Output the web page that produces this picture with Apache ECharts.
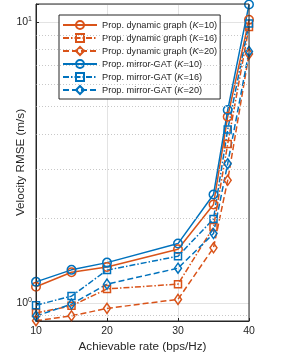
<!DOCTYPE html>
<html>
<head>
<meta charset="utf-8">
<script src="https://cdn.jsdelivr.net/npm/echarts@6/dist/echarts.min.js"></script>
<style>html,body{margin:0;padding:0;background:#fff}#c{width:283px;height:354px}</style>
</head>
<body>
<div id="c"></div>
<script>
const rates = [10, 15, 20, 30, 35, 37, 40];
const dynK10 = [1.14, 1.285, 1.34, 1.55, 2.24, 4.6, 10.2];
const dynK16 = [0.92, 0.975, 1.12, 1.165, 1.86, 3.68, 9.6];
const dynK20 = [0.863, 0.898, 0.955, 1.028, 1.57, 2.73, 7.7];
const mirK10 = [1.187, 1.31, 1.39, 1.625, 2.43, 4.86, 11.55];
const mirK16 = [0.98, 1.056, 1.307, 1.465, 1.99, 4.14, 9.88];
const mirK20 = [0.897, 0.989, 1.165, 1.328, 1.764, 3.13, 7.86];
const minorLines = [0.9, 2, 3, 4, 5, 6, 7, 8, 9];
const names = [
  'Prop. dynamic graph (K=10)', 'Prop. dynamic graph (K=16)', 'Prop. dynamic graph (K=20)',
  'Prop. mirror-GAT (K=10)', 'Prop. mirror-GAT (K=16)', 'Prop. mirror-GAT (K=20)'
];
const ORANGE = '#D95319', BLUE = '#0072BD';
const FONT = 'Liberation Sans';
const TXT = '#262626';

function pairs(ys) { return rates.map((x, i) => [x, ys[i]]); }
const dashDot = [6, 2, 1.5, 2];
const dashed = [6, 3];
function mk(name, ys, color, symbol, size, dash) {
  return {
    name, type: 'line', data: pairs(ys),
    symbol, symbolSize: size, showAllSymbol: true,
    lineStyle: { color, width: 1.5, type: dash },
    itemStyle: { color: 'rgba(255,255,255,0)', borderColor: color, borderWidth: 1.5, opacity: 1 },
    emphasis: { disabled: true }, animation: false, z: 3
  };
}
const series = [
  mk(names[0], dynK10, ORANGE, 'circle', 8.5, 'solid'),
  mk(names[1], dynK16, ORANGE, 'rect', 7, dashDot),
  mk(names[2], dynK20, ORANGE, 'diamond', [7, 10], dashed),
  mk(names[3], mirK10, BLUE, 'circle', 8.5, 'solid'),
  mk(names[4], mirK16, BLUE, 'rect', 7, dashDot),
  mk(names[5], mirK20, BLUE, 'diamond', [7, 10], dashed)
];
series.push({
  type: 'line', data: [], silent: true, animation: false,
  markLine: {
    silent: true, symbol: 'none', animation: false,
    label: { show: false },
    lineStyle: { type: [1, 2], color: '#c8c8c8', width: 1 },
    data: minorLines.map(v => ({ yAxis: v }))
  }
});

const chart = echarts.init(document.getElementById('c'), null, { renderer: 'canvas' });
chart.setOption({
  backgroundColor: '#fff',
  animation: false,
  grid: {
    left: 36, right: 34, top: 4, bottom: 33, containLabel: false, outerBoundsMode: 'none',
    show: true, borderColor: TXT, borderWidth: 1, backgroundColor: 'transparent', z: 10
  },
  legend: {
    data: names, orient: 'vertical', left: 59, top: 15,
    backgroundColor: '#fff', borderColor: TXT, borderWidth: 1,
    padding: [5, 3, 4, 3], itemWidth: 34, itemHeight: 10, itemGap: 3,
    textStyle: { fontFamily: FONT, fontSize: 9.2, lineHeight: 10, color: TXT, rich: { i: { fontStyle: 'italic', fontFamily: FONT, fontSize: 9.2, lineHeight: 10, color: TXT } } },
    formatter: n => n.replace('K=', '{i|K}='),
    selectedMode: false
  },
  xAxis: {
    type: 'value', min: 10, max: 40, interval: 10,
    name: 'Achievable rate (bps/Hz)', nameLocation: 'middle', nameGap: 20, nameMoveOverlap: false,
    nameTextStyle: { fontFamily: FONT, fontSize: 11.7, color: TXT },
    axisLine: { show: true, lineStyle: { color: TXT } },
    axisTick: { show: true, inside: true, length: 3, lineStyle: { color: TXT } },
    axisLabel: { fontFamily: FONT, fontSize: 10.5, color: TXT, margin: 5 },
    splitLine: { show: true, lineStyle: { color: '#e3e3e3', width: 1 } }
  },
  yAxis: {
    type: 'log', logBase: 10, min: 0.861, max: 11.6,
    name: 'Velocity RMSE (m/s)', nameLocation: 'middle', nameGap: 9, nameMoveOverlap: false,
    nameTextStyle: { fontFamily: FONT, fontSize: 11.7, color: TXT },
    axisLine: { show: true, lineStyle: { color: TXT } },
    axisTick: { show: true, inside: true, length: 3, lineStyle: { color: TXT } },
    axisLabel: {
      fontFamily: FONT, fontSize: 10.5, color: TXT, margin: 4,
      formatter: v => {
        const l = Math.log10(v), r = Math.round(l);
        if (Math.abs(l - r) > 1e-6) return '';
        return '10{s|' + r + '}';
      },
      rich: { s: { fontSize: 7, verticalAlign: 'top', padding: [0, 0, 6, 0], fontFamily: FONT, color: TXT } }
    },
    splitLine: { show: true, lineStyle: { color: '#e3e3e3', width: 1 } }
  },
  series
});
</script>
</body>
</html>
